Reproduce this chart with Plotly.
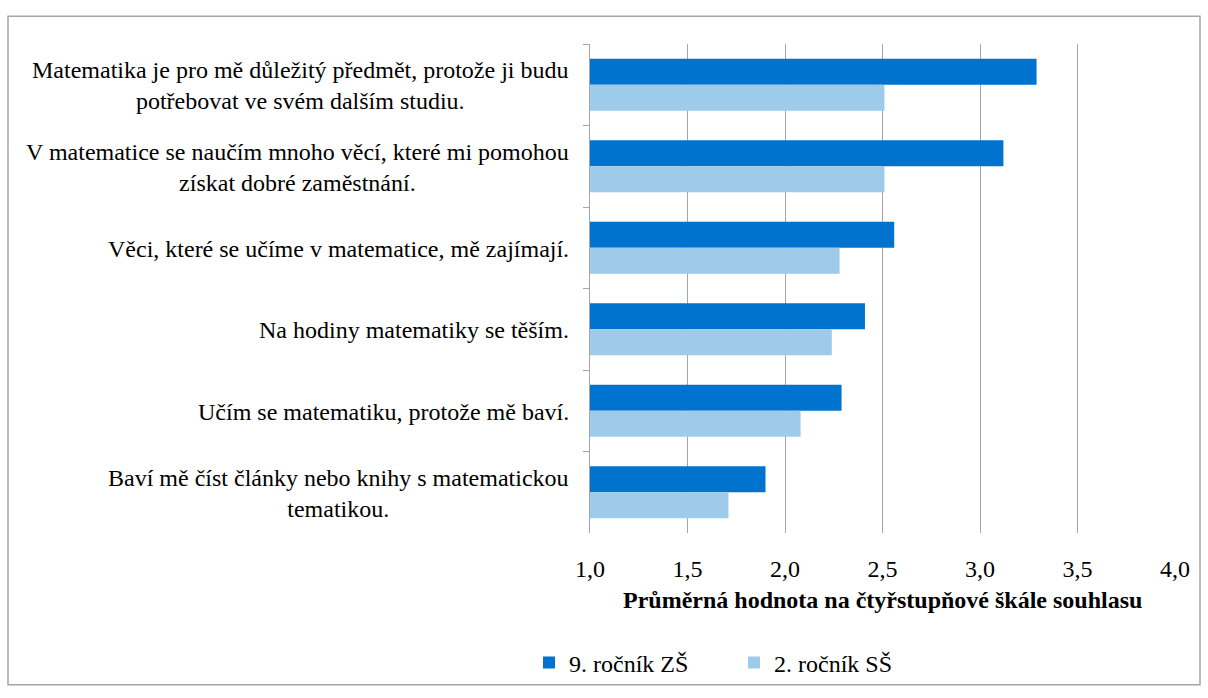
import plotly.graph_objects as go

categories = [
    "Matematika je pro mě důležitý předmět, protože ji budu<br>potřebovat ve svém dalším studiu.",
    "V matematice se naučím mnoho věcí, které mi pomohou<br>získat dobré zaměstnání.",
    "Věci, které se učíme v matematice, mě zajímají.",
    "Na hodiny matematiky se těším.",
    "Učím se matematiku, protože mě baví.",
    "Baví mě číst články nebo knihy s matematickou<br>tematikou.",
]
series_names = ["9. ročník ZŠ", "2. ročník SŠ"]
values_zs = [3.29, 3.12, 2.56, 2.41, 2.29, 1.90]
values_ss = [2.51, 2.51, 2.28, 2.24, 2.08, 1.71]
x_ticks = [1.0, 1.5, 2.0, 2.5, 3.0, 3.5, 4.0]
x_title = "Průměrná hodnota na čtyřstupňové škále souhlasu"

FONT = "Liberation Serif"
W, H = 1208, 698
L, R, T, B = 590, 1175, 44, 537

def px(x):
    return (x - L) / (R - L)

def py(y):
    return (B - y) / (B - T)

fig = go.Figure()
fig.add_trace(go.Bar(y=categories, x=[v - 1.0 for v in values_zs], base=1.0,
                     orientation="h", name=series_names[0],
                     marker=dict(color="#0073CF", line=dict(width=0))))
fig.add_trace(go.Bar(y=categories, x=[v - 1.0 for v in values_ss], base=1.0,
                     orientation="h", name=series_names[1],
                     marker=dict(color="#9DCBE9", line=dict(width=0))))

annotations = []
for c in categories:
    annotations.append(dict(x=px(571), xref="paper", y=c, yref="y", text=c,
                            xanchor="right", yanchor="middle", align="center",
                            showarrow=False, yshift=-1,
                            font=dict(family=FONT, size=24, color="#000000")))
annotations.append(dict(x=0.5, xref="paper", y=py(605), yref="paper",
                        text="<b>" + x_title + "</b>", showarrow=False,
                        xanchor="center", yanchor="middle",
                        font=dict(family=FONT, size=24, color="#000000")))

fig.update_layout(
    width=W, height=H,
    margin=dict(l=L, r=W - R, t=T, b=H - B, pad=0),
    paper_bgcolor="white", plot_bgcolor="white",
    font=dict(family=FONT, color="#000000"),
    barmode="group", bargap=0.36, bargroupgap=0,
    separators=", ",
    showlegend=True,
    legend=dict(orientation="h", x=px(529), y=py(668), xanchor="left",
                yanchor="middle", font=dict(family=FONT, size=24, color="#000000"),
                bgcolor="rgba(0,0,0,0)",
                itemwidth=30, traceorder="normal", entrywidth=160,
                entrywidthmode="pixels"),
    xaxis=dict(range=[1.0, 4.0], tickvals=x_ticks, tickformat=".1f",
               showgrid=True, gridcolor="#A6A6A6", gridwidth=1,
               zeroline=False, showline=False, ticks="outside", ticklen=14,
               tickcolor="rgba(0,0,0,0)",
               tickfont=dict(family=FONT, size=24, color="#000000")),
    yaxis=dict(type="category", autorange="reversed", showticklabels=False,
               showline=True, linecolor="#A6A6A6", linewidth=1,
               ticks="outside", ticklen=6, tickcolor="#A6A6A6",
               tickson="boundaries", showgrid=False),
    annotations=annotations,
    shapes=[dict(type="rect", xref="paper", yref="paper",
                 x0=px(8), x1=px(1200), y0=py(690), y1=py(16),
                 line=dict(color="#A6A6A6", width=1.5), layer="below")],
)

fig.write_html("out.html")
